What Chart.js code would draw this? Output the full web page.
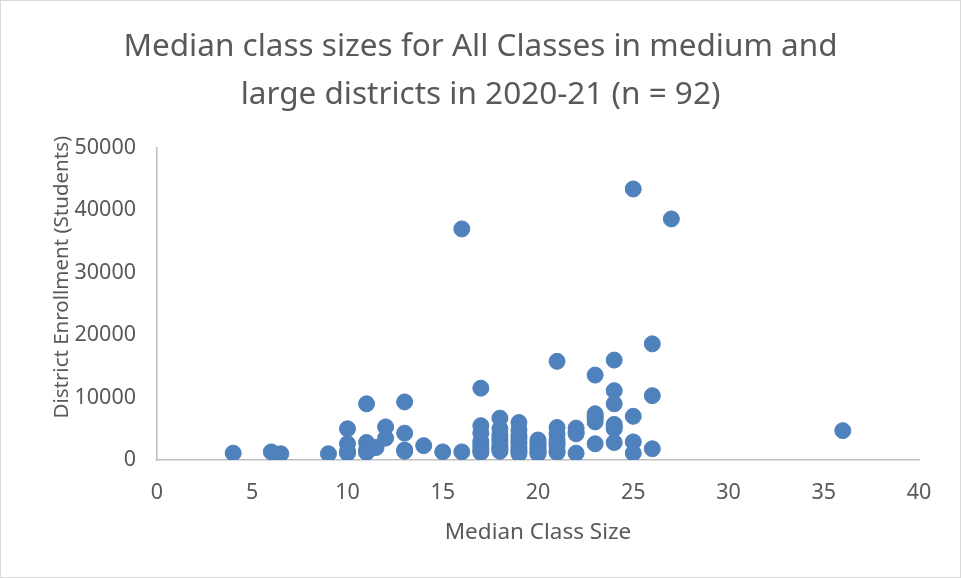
<!DOCTYPE html>
<html>
<head>
<meta charset="utf-8">
<script src="https://cdn.jsdelivr.net/npm/chart.js@4.4.1/dist/chart.umd.min.js"></script>
<style>
  html, body { margin: 0; padding: 0; background: #fff; }
  #wrap { width: 961px; height: 578px; position: relative; }
</style>
</head>
<body>
<div id="wrap"><canvas id="scatterChart"></canvas></div>
<script>
// median class size (x) and district enrollment (y)
const classSizes = [
  4, 6, 6.5, 9,
  10, 10, 10, 10,
  11, 11, 11, 11, 11.5,
  12, 12,
  13, 13, 13, 13,
  14, 15, 16, 16,
  17, 17, 17, 17, 17, 17, 17, 17,
  18, 18, 18, 18, 18, 18, 18, 18, 18,
  19, 19, 19, 19, 19, 19, 19, 19, 19, 19,
  20, 20, 20, 20, 20, 20, 20, 20,
  21, 21, 21, 21, 21, 21, 21, 21,
  22, 22, 22, 22,
  23, 23, 23, 23, 23, 23,
  24, 24, 24, 24, 24, 24, 24,
  25, 25, 25, 25,
  26, 26, 26,
  27, 36
];
const enrollments = [
  1100, 1300, 1000, 1000,
  5000, 2600, 1400, 1100,
  9000, 2800, 1600, 1200, 2000,
  5300, 3500,
  9300, 4300, 1600, 1400,
  2300, 1300, 37000, 1300,
  11500, 5500, 4300, 3000, 2500, 2000, 1500, 1200,
  6700, 5000, 4000, 3500, 3000, 2400, 2000, 1700, 1400,
  6000, 4800, 4000, 3500, 3000, 2600, 2000, 1600, 1300, 1000,
  3200, 2800, 2500, 2000, 1800, 1500, 1200, 1000,
  15800, 5200, 4200, 3200, 2700, 2300, 1500, 1200,
  5100, 4500, 4200, 1100,
  13600, 7400, 7000, 6700, 6100, 2600,
  16000, 11100, 9000, 5700, 5300, 5000, 2800,
  43400, 7000, 2900, 1100,
  18600, 10300, 1800,
  38600, 4700
];
const xTicks = [0, 5, 10, 15, 20, 25, 30, 35, 40];
const yTicks = [0, 10000, 20000, 30000, 40000, 50000];

const points = classSizes.map((x, i) => ({ x: x, y: enrollments[i] }));

const textColor = '#595959';
const axisColor = '#bfbfbf';
const fontName = "'Noto Sans', 'Open Sans', sans-serif";

const frame = {
  id: 'frame',
  beforeDraw(chart) {
    const c = chart.ctx;
    c.save();
    c.fillStyle = '#fff';
    c.fillRect(0, 0, chart.width, chart.height);
    c.strokeStyle = '#d9d9d9';
    c.lineWidth = 1;
    c.strokeRect(0.5, 0.5, chart.width - 1, chart.height - 1);
    c.restore();
  }
};

new Chart(document.getElementById('scatterChart'), {
  type: 'scatter',
  data: {
    datasets: [{
      data: points,
      backgroundColor: '#4f81bd',
      borderColor: '#4f81bd',
      pointRadius: 8,
      pointHoverRadius: 8
    }]
  },
  plugins: [frame],
  options: {
    responsive: true,
    maintainAspectRatio: false,
    animation: false,
    layout: { padding: 0 },
    plugins: {
      legend: { display: false },
      tooltip: { enabled: false },
      title: {
        display: true,
        text: ['Median class sizes for All Classes in medium and', 'large districts in 2020-21 (n = 92)'],
        color: textColor,
        font: { family: fontName, size: 31.5, weight: 'normal', lineHeight: 1.52 },
        padding: { top: 23, bottom: 29 }
      }
    },
    scales: {
      x: {
        type: 'linear',
        min: 0,
        max: 40,
        afterBuildTicks: (scale) => { scale.ticks = xTicks.map(v => ({ value: v })); },
        afterFit: (scale) => { scale.height = 118; },
        grid: { display: false },
        border: { display: true, color: axisColor, width: 1.5 },
        ticks: { color: textColor, padding: 12, font: { family: fontName, size: 21.5 }, maxRotation: 0 },
        title: {
          display: true,
          text: 'Median Class Size',
          color: textColor,
          font: { family: fontName, size: 22.5 },
          padding: { top: 0, bottom: 32 }
        }
      },
      y: {
        type: 'linear',
        min: 0,
        max: 50000,
        afterBuildTicks: (scale) => { scale.ticks = yTicks.map(v => ({ value: v })); },
        afterFit: (scale) => { scale.width = 157; },
        grid: { display: false },
        border: { display: true, color: axisColor, width: 1.5 },
        ticks: { color: textColor, padding: 13, font: { family: fontName, size: 21.5 }, callback: v => String(v) },
        title: {
          display: true,
          // leading spaces lift the rotated title the way the original sits above centre
          text: '          District Enrollment (Students)',
          color: textColor,
          font: { family: fontName, size: 20.5 },
          padding: { top: 50, bottom: 0 }
        }
      },
      yRight: {
        type: 'linear',
        position: 'right',
        display: true,
        grid: { display: false },
        border: { display: false },
        ticks: { display: false },
        afterFit: (scale) => { scale.width = 42; }
      }
    }
  }
});
</script>
</body>
</html>
